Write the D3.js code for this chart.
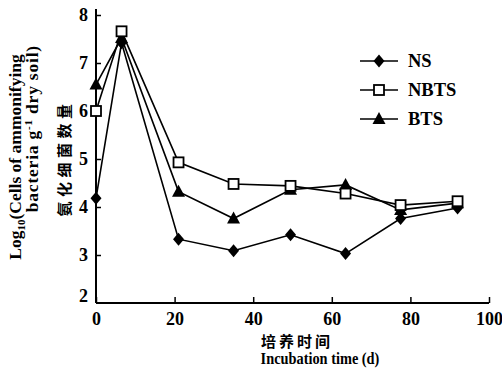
<!DOCTYPE html>
<html>
<head>
<meta charset="utf-8">
<script src="https://cdn.jsdelivr.net/npm/d3@7"></script>
<style>
  html, body { margin: 0; padding: 0; background: #fff; }
  svg { display: block; }
  text { font-family: "Liberation Serif", "Times New Roman", serif; font-weight: bold; fill: #000; }
  .cjk { font-family: "Noto Sans CJK SC", sans-serif; font-weight: bold; }
</style>
</head>
<body>
<svg id="chart" width="502" height="371"></svg>
<script>
// ---- data ----
const days = [0, 6.5, 21, 35, 49.5, 63.5, 77.5, 92];
const seriesNames = ["NS", "NBTS", "BTS"];
const nsValues   = [4.18, 7.42, 3.33, 3.09, 3.42, 3.03, 3.76, 3.98];
const nbtsValues = [6.0, 7.66, 4.93, 4.48, 4.44, 4.28, 4.04, 4.12];
const btsValues  = [6.55, 7.52, 4.32, 3.76, 4.36, 4.46, 3.94, 4.08];
const xTicks = [0, 20, 40, 60, 80, 100];
const yTicks = [2, 3, 4, 5, 6, 7, 8];

const svg = d3.select("#chart");
const x = d3.scaleLinear().domain([0, 100]).range([96, 489]);
const y = d3.scaleLinear().domain([2, 8]).range([303, 15]);

// axes
const xAxis = d3.axisBottom(x).tickValues(xTicks).tickSize(-6).tickPadding(9).tickFormat(d3.format("d"));
const yAxis = d3.axisLeft(y).tickValues(yTicks).tickSize(-5).tickPadding(8).tickFormat(d3.format("d"));

const gx = svg.append("g").attr("transform", "translate(0,303)").call(xAxis);
gx.select(".domain").remove();
gx.append("line").attr("x1", x(0)).attr("x2", x(100)).attr("y1", 0).attr("y2", 0)
  .attr("stroke", "#000").attr("stroke-width", 2);
gx.selectAll(".tick line").attr("stroke-width", 1.5);
gx.selectAll(".tick text").attr("font-size", 18).attr("dy", "0.71em")
  .style("font-family", "'Liberation Serif', serif").style("font-weight", "bold");

const gy = svg.append("g").attr("transform", "translate(96,0)").call(yAxis);
gy.select(".domain").remove();
gy.append("line").attr("x1", 0).attr("x2", 0).attr("y1", 303).attr("y2", 9)
  .attr("stroke", "#000").attr("stroke-width", 2);
gy.selectAll(".tick line").attr("stroke-width", 1.5);
gy.selectAll(".tick text").attr("font-size", 18)
  .style("font-family", "'Liberation Serif', serif").style("font-weight", "bold");
gy.selectAll(".tick").filter(d => d === 2).select("line").remove();
gy.selectAll(".tick").filter(d => d === 2).select("text").attr("dy", "-0.1em");

// series
const data = [
  { name: seriesNames[0], values: nsValues, shape: "diamond" },
  { name: seriesNames[1], values: nbtsValues, shape: "square" },
  { name: seriesNames[2], values: btsValues, shape: "triangle" }
];
const line = d3.line().x(d => x(d[0])).y(d => y(d[1]));

function drawMarker(g, shape, cx, cy) {
  if (shape === "diamond") {
    g.append("path").attr("d", `M${cx},${cy-6.5}L${cx+5.5},${cy}L${cx},${cy+6.5}L${cx-5.5},${cy}Z`).attr("fill", "#000");
  } else if (shape === "square") {
    g.append("rect").attr("x", cx-5).attr("y", cy-5).attr("width", 10).attr("height", 10)
      .attr("fill", "#fff").attr("stroke", "#000").attr("stroke-width", 1.8);
  } else {
    g.append("path").attr("d", `M${cx},${cy-7}L${cx+6.5},${cy+5}L${cx-6.5},${cy+5}Z`).attr("fill", "#000");
  }
}

const order = [0, 2, 1];
order.forEach(i => {
  const s = data[i];
  const pts = days.map((d, k) => [d, s.values[k]]);
  svg.append("path").datum(pts).attr("d", line).attr("fill", "none").attr("stroke", "#000").attr("stroke-width", 1.6);
});
order.forEach(i => {
  const s = data[i];
  const g = svg.append("g");
  days.forEach((d, k) => drawMarker(g, s.shape, x(d), y(s.values[k])));
});

// legend
const legend = svg.append("g");
data.forEach((s, i) => {
  const ly = 61 + i * 29;
  legend.append("line").attr("x1", 360).attr("x2", 398).attr("y1", ly).attr("y2", ly)
    .attr("stroke", "#000").attr("stroke-width", 1.6);
  drawMarker(legend, s.shape, 379, ly);
  legend.append("text").attr("x", 408).attr("y", ly).attr("dy", "0.35em").attr("font-size", 18.5).text(s.name);
});

// y-axis title
const yt = svg.append("g");
const t1 = yt.append("text").attr("transform", "translate(21,157) rotate(-90)").attr("text-anchor", "middle").attr("font-size", 17.5);
t1.append("tspan").text("Log");
t1.append("tspan").attr("font-size", 11).attr("dy", 4).text("10");
t1.append("tspan").attr("dy", -4).text("(Cells of ammonifying");
const t2 = yt.append("text").attr("transform", "translate(38,45) rotate(-90)").attr("text-anchor", "end")
  .attr("font-size", 17.5).attr("letter-spacing", 0.8);
t2.append("tspan").text("bacteria g");
t2.append("tspan").attr("font-size", 11).attr("dy", -6).text("-1");
t2.append("tspan").attr("dy", 6).text(" dry soil)");
yt.append("text").attr("class", "cjk").attr("transform", "translate(70,158) rotate(-90)")
  .attr("text-anchor", "middle").attr("font-size", 15).attr("letter-spacing", 4.5).text("氨化细菌数量");

// x-axis title
svg.append("text").attr("class", "cjk").attr("x", 297).attr("y", 347).attr("text-anchor", "middle")
  .attr("font-size", 15).attr("letter-spacing", 3).text("培养时间");
svg.append("text").attr("transform", "translate(320,364) scale(0.87,1)").attr("text-anchor", "middle")
  .attr("font-size", 16.5).text("Incubation time (d)");
</script>
</body>
</html>
